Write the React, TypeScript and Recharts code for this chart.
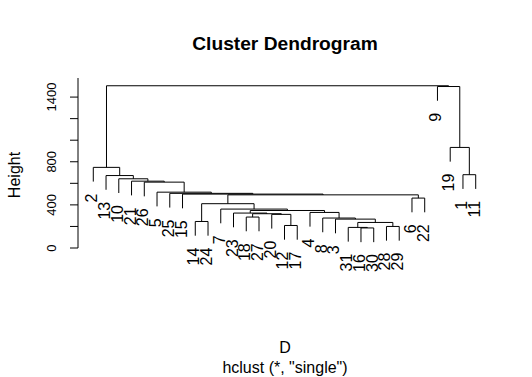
import { ComposedChart, Line, Scatter, XAxis, YAxis } from 'recharts';

// observations left to right, as hclust orders them
const leafOrder = [2, 13, 10, 21, 26, 5, 25, 15, 14, 24, 7, 23, 18, 27, 20, 12, 17, 4, 8, 3, 31, 16, 30, 28, 29, 6, 22, 9, 19, 1, 11];

// merge matrix like R's hclust: negative = observation, positive = earlier row (1-based)
const mergeLeft = [-16, -31, -28, -12, 2, -14, -3, -8, -18, -20, 9, -23, -4, 12, -7, 6, -6, 16, -15, -25, -5, -26, -21, -10, -13, -2, -1, -19, -9, 26];
const mergeRight = [-30, 1, -29, -17, 3, -24, 5, 7, -27, 4, 10, 11, 8, 13, 14, 15, -22, 17, 18, 19, 20, 21, 22, 23, 24, 25, -11, 27, 28, 29];
const mergeHeight = [186, 191, 200, 209, 237, 246, 268, 278, 287, 312, 318, 324, 330, 348, 361, 411, 463, 493, 500, 507, 518, 611, 620, 642, 672, 748, 680, 933, 1498, 1505];

const yTicks = [0, 200, 400, 600, 800, 1000, 1200, 1400];
const yTickLabels = [0, 400, 800, 1400];

const W = 532;
const H = 377;
const FONT = '"Liberation Sans", Arial, Helvetica, sans-serif';

const n = leafOrder.length;
const hang = 0.1 * (Math.max(...mergeHeight) - Math.min(...mergeHeight));
const xPos: Record<number, number> = {};
leafOrder.forEach((id, i) => (xPos[id] = i + 1));

const centers: number[] = [];
const leafPoints: { x: number; y: number; label: string }[] = [];
const segments = mergeHeight.map((h, k) => {
  const side = (ref: number) => {
    if (ref < 0) {
      const p = { x: xPos[-ref], y: h - hang };
      leafPoints.push({ ...p, label: String(-ref) });
      return p;
    }
    return { x: centers[ref - 1], y: mergeHeight[ref - 1] };
  };
  const a = side(mergeLeft[k]);
  const b = side(mergeRight[k]);
  centers[k] = (a.x + b.x) / 2;
  return [
    { x: a.x, y: a.y },
    { x: a.x, y: h },
    { x: b.x, y: h },
    { x: b.x, y: b.y },
  ];
});

function HeightTick(props: any) {
  const { x, y, payload } = props;
  if (!yTickLabels.includes(payload.value)) return null;
  return (
    <text x={x} y={y} dy="0.35em" transform={`rotate(-90 ${x} ${y})`} textAnchor="middle"
      fontFamily={FONT} fontSize={13} fill="#000">
      {payload.value}
    </text>
  );
}

function LeafLabel(props: any) {
  const { cx, cy, payload } = props;
  const gap = 12;
  return (
    <text x={cx - gap} y={cy} dy="0.25em" transform={`rotate(-90 ${cx} ${cy})`} textAnchor="end"
      fontFamily={FONT} fontSize={16} fill="#000">
      {payload.label}
    </text>
  );
}

export default function App() {
  return (
    <div style={{ position: 'absolute', left: 0, top: 0, width: W, height: H, background: '#fff' }}>
      <ComposedChart width={W} height={H} margin={{ top: 78, right: 41, bottom: 129, left: 0 }}>
        <XAxis dataKey="x" type="number" domain={[1 - 0.04 * (n - 1), n + 0.04 * (n - 1)]} hide />
        <YAxis
          type="number"
          domain={[0, 1577]}
          ticks={yTicks}
          width={78}
          tickSize={8}
          tickMargin={19}
          tick={<HeightTick />}
          axisLine={{ stroke: '#000' }}
          tickLine={{ stroke: '#000' }}
          interval={0}
        />
        {segments.map((seg, i) => (
          <Line
            key={i}
            data={seg}
            dataKey="y"
            type="linear"
            stroke="#000"
            strokeWidth={1}
            dot={false}
            activeDot={false}
            isAnimationActive={false}
          />
        ))}
        <Scatter data={leafPoints} dataKey="y" shape={<LeafLabel />} isAnimationActive={false} />
      </ComposedChart>
      <svg width={W} height={H} style={{ position: 'absolute', left: 0, top: 0, pointerEvents: 'none' }}>
        <text x={285} y={43} dy="0.35em" textAnchor="middle" fontFamily={FONT} fontSize={19.2} fontWeight="bold">
          Cluster Dendrogram
        </text>
        <text x={14} y={175} dy="0.35em" textAnchor="middle" transform="rotate(-90 14 175)" fontFamily={FONT} fontSize={16}>
          Height
        </text>
        <text x={285} y={347} dy="0.35em" textAnchor="middle" fontFamily={FONT} fontSize={16}>
          D
        </text>
        <text x={285} y={367} dy="0.35em" textAnchor="middle" fontFamily={FONT} fontSize={16}>
          hclust (*, "single")
        </text>
      </svg>
    </div>
  );
}
